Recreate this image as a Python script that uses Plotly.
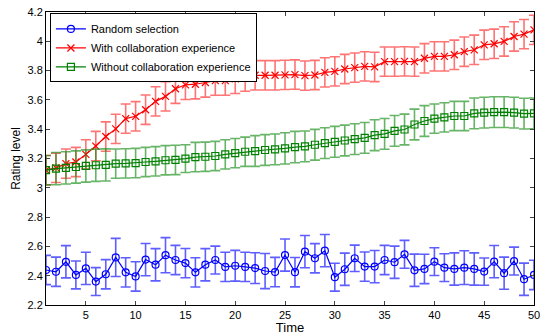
import plotly.graph_objects as go

time = list(range(1, 51))

random_sel = [2.439, 2.427, 2.495, 2.405, 2.45, 2.36, 2.41, 2.525, 2.423, 2.395,
              2.51, 2.475, 2.54, 2.507, 2.486, 2.423, 2.475, 2.507, 2.46, 2.468,
              2.46, 2.452, 2.432, 2.425, 2.541, 2.424, 2.564, 2.519, 2.571, 2.39,
              2.444, 2.519, 2.462, 2.462, 2.507, 2.492, 2.546, 2.437, 2.446, 2.496,
              2.455, 2.446, 2.455, 2.446, 2.428, 2.496, 2.417, 2.5, 2.376, 2.405]
random_err = [0.10, 0.10, 0.11, 0.095, 0.11, 0.095, 0.10, 0.13, 0.10, 0.10,
              0.11, 0.11, 0.12, 0.10, 0.10, 0.10, 0.11, 0.095, 0.10, 0.105,
              0.10, 0.105, 0.12, 0.10, 0.11, 0.10, 0.11, 0.10, 0.11, 0.095,
              0.11, 0.09, 0.10, 0.11, 0.10, 0.11, 0.095, 0.11, 0.10, 0.095,
              0.095, 0.11, 0.115, 0.11, 0.093, 0.11, 0.11, 0.095, 0.11, 0.10]

with_collab = [3.12, 3.136, 3.165, 3.176, 3.228, 3.285, 3.35, 3.402, 3.472, 3.488,
               3.533, 3.59, 3.624, 3.676, 3.703, 3.707, 3.719, 3.732, 3.732, 3.744,
               3.759, 3.768, 3.768, 3.768, 3.771, 3.773, 3.766, 3.77, 3.788, 3.795,
               3.811, 3.82, 3.829, 3.825, 3.861, 3.861, 3.863, 3.861, 3.884, 3.897,
               3.897, 3.908, 3.929, 3.942, 3.976, 3.983, 3.999, 4.033, 4.049, 4.078]
with_err = [0.10] * 50

without_collab = [3.12, 3.131, 3.136, 3.142, 3.149, 3.154, 3.156, 3.165, 3.167, 3.169,
                  3.176, 3.181, 3.188, 3.19, 3.199, 3.21, 3.212, 3.217, 3.228, 3.237,
                  3.246, 3.251, 3.258, 3.262, 3.269, 3.278, 3.283, 3.294, 3.305, 3.314,
                  3.323, 3.332, 3.341, 3.359, 3.368, 3.389, 3.398, 3.432, 3.456, 3.472,
                  3.481, 3.49, 3.49, 3.508, 3.513, 3.517, 3.517, 3.513, 3.506, 3.508]
without_err = [0.10, 0.11, 0.11, 0.11, 0.11, 0.11, 0.11, 0.10, 0.10, 0.10,
               0.10, 0.10, 0.10, 0.10, 0.095, 0.10, 0.10, 0.10, 0.10, 0.10,
               0.10, 0.105, 0.105, 0.105, 0.107, 0.107, 0.105, 0.105, 0.105, 0.105,
               0.105, 0.105, 0.105, 0.105, 0.105, 0.105, 0.105, 0.105, 0.105, 0.10,
               0.10, 0.10, 0.10, 0.105, 0.105, 0.105, 0.105, 0.105, 0.105, 0.105]

y_ticks = [2.2, 2.4, 2.6, 2.8, 3.0, 3.2, 3.4, 3.6, 3.8, 4.0, 4.2]
y_tick_labels = ["2.2", "2.4", "2.6", "2.8", "3", "3.2", "3.4", "3.6", "3.8", "4", "4.2"]
x_ticks = [5, 10, 15, 20, 25, 30, 35, 40, 45, 50]

FONT = "Liberation Sans, Arial, Helvetica, sans-serif"

fig = go.Figure()

def add_series(name, y, err, line_color, err_color, symbol):
    fig.add_trace(go.Scatter(
        x=time, y=y, name=name, mode="lines+markers",
        line=dict(color=line_color, width=1.2),
        marker=dict(symbol=symbol, size=7, color=line_color,
                    line=dict(color=line_color, width=1.2)),
        error_y=dict(type="data", array=err, visible=True,
                     color=err_color, thickness=1.6, width=5),
    ))

add_series("Random selection", random_sel, random_err,
           "#0000ff", "rgba(40,40,255,0.75)", "circle-open")
add_series("With collaboration experience", with_collab, with_err,
           "#ff0000", "rgba(255,40,40,0.65)", "x-thin-open")
add_series("Without collaboration experience", without_collab, without_err,
           "#008000", "rgba(20,140,20,0.65)", "square-open")

fig.update_layout(
    width=544, height=335,
    margin=dict(l=46, r=4, t=12, b=28),
    paper_bgcolor="white", plot_bgcolor="white",
    font=dict(family=FONT, size=11, color="black"),
    showlegend=True,
    legend=dict(x=0.008, y=0.995, xanchor="left", yanchor="top",
                bgcolor="white", bordercolor="black", borderwidth=1,
                font=dict(family=FONT, size=11), tracegroupgap=0,
                itemwidth=30),
    xaxis=dict(range=[1, 50], tickvals=x_ticks, ticks="inside", ticklen=4,
               showline=True, linecolor="black", linewidth=1, mirror="ticks",
               showgrid=False, zeroline=False, ticklabeloverflow="allow",
               title=dict(text="Time", standoff=1, font=dict(size=13))),
    yaxis=dict(range=[2.2, 4.2], tickvals=y_ticks, ticktext=y_tick_labels,
               ticks="inside", ticklen=4,
               showline=True, linecolor="black", linewidth=1, mirror="ticks",
               showgrid=False, zeroline=False, ticklabeloverflow="allow",
               title=dict(text="Rating level", standoff=4, font=dict(size=12))),
)

fig.write_html(
    "out.html",
    config={"displayModeBar": False},
    post_script="document.body.style.margin='0';document.body.style.overflow='hidden';",
)
